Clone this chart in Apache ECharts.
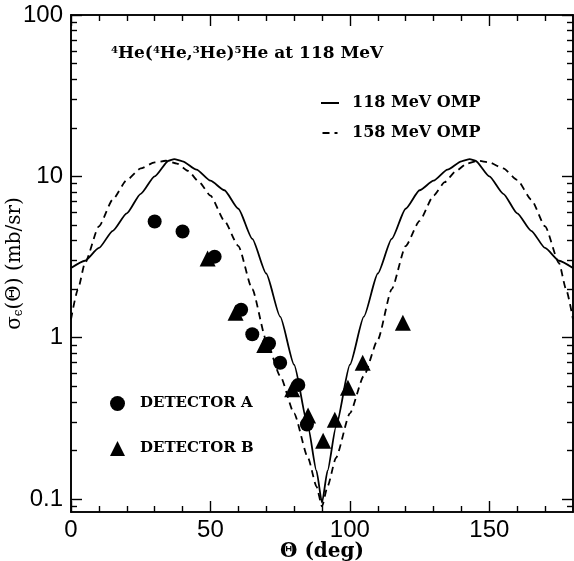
<!DOCTYPE html>
<html lang="en">
<head>
    <meta charset="UTF-8">
    <title>4He(4He,3He)5He at 118 MeV</title>
    <script src="https://cdn.jsdelivr.net/npm/echarts@6/dist/echarts.min.js"></script>
    <style>
        body { margin: 0; background: #fff; }
        .demo { width: 574px; height: 561px; }
    </style>
</head>
<body>
    <div class="demo"></div>
    <script>
        // angles (deg) and cross sections (mb/sr)
        var omp118Theta = [0, 5, 10, 15, 20, 25, 30, 35, 37, 40, 45, 50, 55, 60, 65, 70, 75, 80, 85, 88, 90,
            92, 95, 100, 105, 110, 115, 120, 125, 130, 135, 140, 143, 145, 150, 155, 160, 165, 170, 175, 180]
        var omp118 = [2.7, 3.0, 3.6, 4.6, 5.9, 7.8, 10, 12.5, 12.8, 12.4, 11, 9.4, 8.2, 6.3, 4.1, 2.5, 1.35, 0.68, 0.28, 0.15, 0.095,
            0.15, 0.28, 0.68, 1.35, 2.5, 4.1, 6.3, 8.2, 9.4, 11, 12.4, 12.8, 12.5, 10, 7.8, 5.9, 4.6, 3.6, 3.0, 2.7]
        var omp158Theta = [0, 2.5, 5, 10, 15, 20, 25, 30, 34, 38, 42, 46, 50, 55, 60, 65, 70, 75, 80, 85, 88, 90,
            92, 95, 100, 105, 110, 115, 120, 125, 130, 134, 138, 142, 146, 150, 155, 160, 165, 170, 175, 177.5, 180]
        var omp158 = [1.3, 2.0, 2.9, 4.9, 7.2, 9.5, 11.2, 12.2, 12.5, 12, 10.8, 9.2, 7.6, 5.3, 3.7, 2.0, 0.97, 0.58, 0.34, 0.18, 0.12, 0.09,
            0.12, 0.18, 0.34, 0.58, 0.97, 2.0, 3.7, 5.3, 7.6, 9.2, 10.8, 12, 12.5, 12.2, 11.2, 9.5, 7.2, 4.9, 2.9, 2.0, 1.3]
        var detATheta = [30, 40, 51.5, 61, 65, 71, 75, 81.5, 84.6]
        var detA = [5.25, 4.55, 3.18, 1.49, 1.05, 0.92, 0.70, 0.51, 0.29]
        var detBTheta = [49, 59, 69.3, 79.3, 85, 90.4, 94.6, 99.3, 104.6, 119]
        var detB = [3.1, 1.43, 0.9, 0.48, 0.33, 0.23, 0.31, 0.49, 0.70, 1.24]

        var xMajor = [0, 50, 100, 150]
        var xMinor = [10, 20, 30, 40, 60, 70, 80, 90, 110, 120, 130, 140, 160, 170]
        var yDecades = [0.1, 1, 10, 100]
        var yMinor = [0.09, 0.2, 0.3, 0.4, 0.5, 0.6, 0.7, 0.8, 0.9, 2, 3, 4, 5, 6, 7, 8, 9, 20, 30, 40, 50, 60, 70, 80, 90]

        // y is drawn in log10 space; each axis pair is shifted so that its zero
        // sits on the frame edge where the axis is drawn
        var yMin = -1.08, yMax = 2
        function lg(v) { return Math.log10(v) }
        function pairs(xs, ys) {
            return xs.map(function (x, i) { return [x, lg(ys[i]) - yMin] })
        }

        var serif = 'DejaVu Serif'
        var sans = 'Liberation Sans'

        function xAxis(pos, ticks, len, labels, shift, zeroIdx) {
            return {
                type: 'value', position: pos, min: shift, max: 180 + shift,
                axisLine: { show: true, onZero: true, onZeroAxisIndex: zeroIdx, lineStyle: { color: '#000', width: 1.6 } },
                axisTick: { show: true, inside: true, length: len, customValues: ticks.map(function (t) { return t + shift }), lineStyle: { color: '#000', width: 1.4 } },
                axisLabel: labels ? { show: true, customValues: xMajor, color: '#000', fontSize: 24, fontFamily: sans, margin: 6 } : { show: false },
                splitLine: { show: false }
            }
        }
        function yAxis(pos, ticks, len, labels, base, zeroIdx) {
            return {
                type: 'value', position: pos, min: yMin - base, max: yMax - base,
                axisLine: { show: true, onZero: true, onZeroAxisIndex: zeroIdx, lineStyle: { color: '#000', width: 1.6 } },
                axisTick: { show: true, inside: true, length: len, customValues: ticks.map(function (t) { return lg(t) - base }), lineStyle: { color: '#000', width: 1.4 } },
                axisLabel: labels ? {
                    show: true, customValues: yDecades.map(function (t) { return lg(t) - base }), color: '#000', fontSize: 24, fontFamily: sans, margin: 8,
                    formatter: function (v) { return String(Math.round(Math.pow(10, v + base) * 10) / 10) }
                } : { show: false },
                splitLine: { show: false }
            }
        }

        var xs = [
            xAxis('bottom', xMajor, 11, true, 0, 0), xAxis('bottom', xMinor, 6, false, 0, 0),
            xAxis('top', xMajor, 11, false, -180, 2), xAxis('top', xMinor, 6, false, -180, 2)
        ]
        xs[0].name = 'Θ (deg)'
        xs[0].nameLocation = 'middle'
        xs[0].nameGap = 30
        xs[0].nameMoveOverlap = false
        xs[0].nameTextStyle = { color: '#000', fontSize: 20, fontWeight: 'bold', fontFamily: serif }

        var ys = [
            yAxis('left', yDecades, 11, true, yMin, 0), yAxis('left', yMinor, 6, false, yMin, 0),
            yAxis('right', yDecades, 11, false, yMax, 2), yAxis('right', yMinor, 6, false, yMax, 2)
        ]
        ys[0].name = '{g|σ}{s|ϵ}{g|(Θ) (mb/sr)}'
        ys[0].nameLocation = 'middle'
        ys[0].nameGap = 46
        ys[0].nameMoveOverlap = false
        ys[0].nameTextStyle = {
            color: '#000', fontSize: 20, fontFamily: serif,
            rich: {
                g: { fontSize: 20, fontFamily: serif, color: '#000' },
                s: { fontSize: 12, fontFamily: serif, color: '#000', verticalAlign: 'bottom', lineHeight: 12, padding: [10, 0, 0, 0] }
            }
        }

        var div = echarts.init(document.querySelector('.demo'))
        var option = {
            animation: false,
            title: {
                text: '{sup|4}He({sup|4}He,{sup|3}He){sup|5}He at 118 MeV',
                left: 106, top: 40,
                textStyle: {
                    color: '#000', fontSize: 17, fontFamily: serif, fontWeight: 'bold',
                    rich: {
                        sup: { fontSize: 10, fontFamily: serif, fontWeight: 'bold', color: '#000', verticalAlign: 'top', padding: [0, 0, 8, 0] }
                    }
                }
            },
            legend: [{
                data: [
                    { name: '118 MeV OMP', icon: 'path://M0,0h18v2h-18z' },
                    { name: '158 MeV OMP', icon: 'path://M0,0h7v2h-7z M12,0h3v2h-3z' }
                ],
                orient: 'vertical', left: 316, top: 90,
                itemWidth: 18, itemHeight: 2, itemGap: 14,
                textStyle: { color: '#000', fontSize: 16, fontWeight: 'bold', fontFamily: serif, padding: [0, 0, 0, 8] }
            }, {
                data: ['DETECTOR A', 'DETECTOR B'],
                orient: 'vertical', left: 105, top: 391,
                itemWidth: 15, itemHeight: 15, itemGap: 30,
                textStyle: { color: '#000', fontSize: 15, fontWeight: 'bold', fontFamily: serif, padding: [0, 0, 0, 10] }
            }],
            grid: { left: 71, right: 1, top: 15, bottom: 49, outerBoundsMode: 'none' },
            xAxis: xs,
            yAxis: ys,
            series: [{
                name: '118 MeV OMP', type: 'line', data: pairs(omp118Theta, omp118),
                smooth: 0.2, smoothMonotone: 'x', symbol: 'none', lineStyle: { color: '#000', width: 1.8 }, itemStyle: { color: '#000' }
            }, {
                name: '158 MeV OMP', type: 'line', data: pairs(omp158Theta, omp158),
                smooth: 0.2, smoothMonotone: 'x', symbol: 'none', lineStyle: { color: '#000', width: 1.8, type: [7, 5] }, itemStyle: { color: '#000' }
            }, {
                name: 'DETECTOR A', type: 'scatter', data: pairs(detATheta, detA),
                symbol: 'circle', symbolSize: 14, itemStyle: { color: '#000', opacity: 1 }
            }, {
                name: 'DETECTOR B', type: 'scatter', data: pairs(detBTheta, detB),
                symbol: 'triangle', symbolSize: 16, itemStyle: { color: '#000', opacity: 1 }
            }]
        }
        div.setOption(option)
    </script>
</body>
</html>
